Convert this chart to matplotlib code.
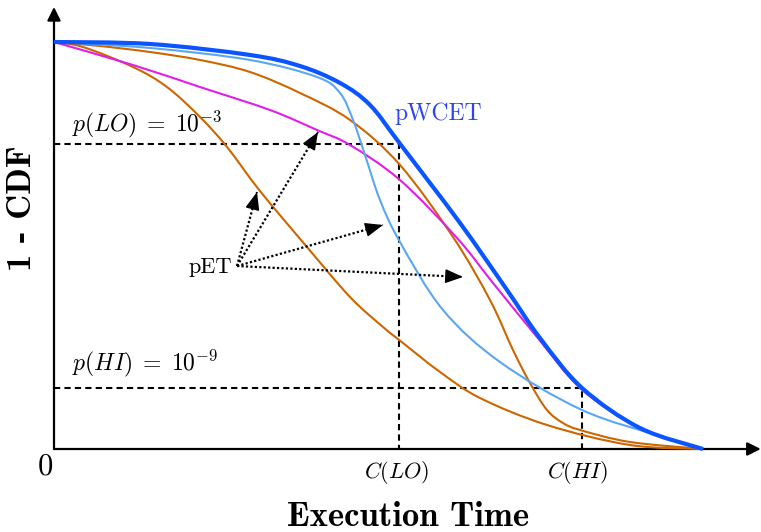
import matplotlib
matplotlib.use('Agg')
import numpy as np
import matplotlib.pyplot as plt
from matplotlib.path import Path
from matplotlib.patches import PathPatch

plt.rcParams['mathtext.fontset'] = 'cm'

# execution time (0-100) and 1-CDF (0-100, schematic)
pwcet_x = [0, 14.79, 30.20, 37.90, 44.07, 48.69, 53.31, 62.56, 69.80, 74.88, 81.36, 90.29, 100]
pwcet_y = [100, 99.51, 96.81, 94.10, 89.93, 84.52, 75.0, 55.53, 39.07, 27.27, 15.0, 5.16, 0]

lightblue_x = [0, 14.79, 30.20, 40.52, 44.07, 46.07, 47.92, 50.23, 53.31, 59.94, 68.72,
               81.36, 93.84, 100]
lightblue_y = [100, 98.53, 95.58, 91.40, 87.47, 80.84, 72.24, 61.18, 50.86, 34.15, 21.38,
               9.58, 2.95, 0]

orangeB_x = [0, 7.09, 14.79, 22.50, 30.20, 37.90, 45.61, 53.31, 61.48, 67.18, 70.72, 73.34,
             75.96, 78.43, 81.05, 88.75, 100]
orangeB_y = [100, 99.02, 97.54, 95.58, 92.63, 87.47, 80.84, 69.78, 52.09, 36.61, 24.32, 16.22,
             9.58, 6.39, 4.67, 1.72, 0]

orangeA_x = [0, 4.47, 12.17, 17.41, 22.50, 26.66, 31.74, 38.98, 45.61, 50.69, 53.78, 59.48,
             65.64, 75.96, 88.75, 100]
orangeA_y = [100, 98.77, 93.86, 88.94, 81.57, 74.20, 63.39, 49.63, 37.35, 29.98, 26.04, 18.92,
             12.53, 5.90, 0.98, 0]

magenta_x = [0, 12.17, 22.50, 33.28, 40.52, 45.61, 53.31, 62.10, 67.64, 74.42, 81.05,
             88.75, 93.84, 100]
magenta_y = [100, 94.35, 88.94, 83.29, 78.38, 74.69, 66.09, 51.84, 40.79, 27.52, 14.99,
             6.39, 2.95, 0]

# thresholds
p_lo, p_hi = 75.0, 15.0
c_lo, c_hi = 53.2, 81.4

# pET label anchor and the arrow tips
pet_from = (28.2, 44.96)
pet_tips = [(31.28, 63.14), (40.68, 77.89), (50.69, 55.04), (63.02, 42.26)]


def smooth_path(xs, ys):
    # draw through the read points with bezier segments (like tikz "smooth")
    pts = np.column_stack([xs, ys]).astype(float)
    verts = [pts[0]]
    codes = [Path.MOVETO]
    n = len(pts)
    for i in range(n - 1):
        p0 = pts[i - 1] if i > 0 else pts[i]
        p1 = pts[i]
        p2 = pts[i + 1]
        p3 = pts[i + 2] if i + 2 < n else pts[i + 1]
        verts += [p1 + (p2 - p0) / 6, p2 - (p3 - p1) / 6, p2]
        codes += [Path.CURVE4] * 3
    return Path(verts, codes)


def curve(ax, xs, ys, color, lw, z):
    ax.add_patch(PathPatch(smooth_path(xs, ys), facecolor='none', edgecolor=color,
                           lw=lw, zorder=z, capstyle='butt'))


fig = plt.figure(figsize=(7.61, 5.32), dpi=100)
ax = fig.add_axes([0, 0, 1, 1])
ax.set_xlim(-54 / 6.49, 707 / 6.49)
ax.set_ylim(-83 / 4.07, 449 / 4.07)
ax.axis('off')

# axes with arrow heads
ax.annotate('', xy=(0, 108.6), xytext=(0, 0),
            arrowprops=dict(arrowstyle='-|>', lw=1.6, color='black', mutation_scale=20,
                            shrinkA=0, shrinkB=0))
ax.annotate('', xy=(108.9, 0), xytext=(0, 0),
            arrowprops=dict(arrowstyle='-|>', lw=1.6, color='black', mutation_scale=20,
                            shrinkA=0, shrinkB=0))

# threshold lines
dash = (0, (3, 2))
ax.plot([0, c_lo, c_lo], [p_lo, p_lo, 0], color='black', lw=1.5, ls=dash, zorder=2)
ax.plot([0, c_hi, c_hi], [p_hi, p_hi, 0], color='black', lw=1.5, ls=dash, zorder=2)

# pET curves and the pWCET envelope
curve(ax, orangeA_x, orangeA_y, '#cc6600', 1.5, 3)
curve(ax, orangeB_x, orangeB_y, '#cc6600', 1.5, 3)
curve(ax, magenta_x, magenta_y, '#e01ee6', 1.5, 3)
curve(ax, lightblue_x, lightblue_y, '#5ba6f0', 1.5, 4)
curve(ax, pwcet_x, pwcet_y, '#0a55ff', 3.0, 5)

# dotted pointers from the pET label, solid heads
for tip in pet_tips:
    ax.plot([pet_from[0], tip[0]], [pet_from[1], tip[1]], color='black', lw=1.6,
            ls=(0, (1, 1)), zorder=6)
    back = (tip[0] - 0.05 * (tip[0] - pet_from[0]), tip[1] - 0.05 * (tip[1] - pet_from[1]))
    ax.annotate('', xy=tip, xytext=back,
                arrowprops=dict(arrowstyle='-|>,head_length=0.5,head_width=0.2', lw=1,
                                color='black', mutation_scale=22, shrinkA=0, shrinkB=0),
                zorder=6)

# labels
ax.text(2.77, 78.1, r'$p(LO)\;=\;10^{-3}$', fontsize=17, va='baseline', ha='left')
ax.text(2.77, 19.4, r'$p(HI)\;=\;10^{-9}$', fontsize=17, va='baseline', ha='left')
ax.text(52.5, 80.8, 'pWCET', fontsize=17, color='#2b45f5', family='cmr10', va='baseline')
ax.text(27.4, 43.2, 'pET', fontsize=16, family='cmr10', va='baseline', ha='right')
ax.text(52.7, -7.1, r'$C(LO)$', fontsize=16, ha='center', va='baseline')
ax.text(80.7, -7.1, r'$C(HI)$', fontsize=16, ha='center', va='baseline')
ax.text(-1.3, -4.4, '0', fontsize=22, family='cmr10', ha='center', va='center')
ax.text(54.5, -18.9, 'Execution Time', fontsize=25, family='cmb10', ha='center', va='baseline')
ax.text(-4.9, 59.2, '1 - CDF', fontsize=25, family='cmb10', rotation=90,
        ha='center', va='center')

fig.savefig('out.png', dpi=100)
